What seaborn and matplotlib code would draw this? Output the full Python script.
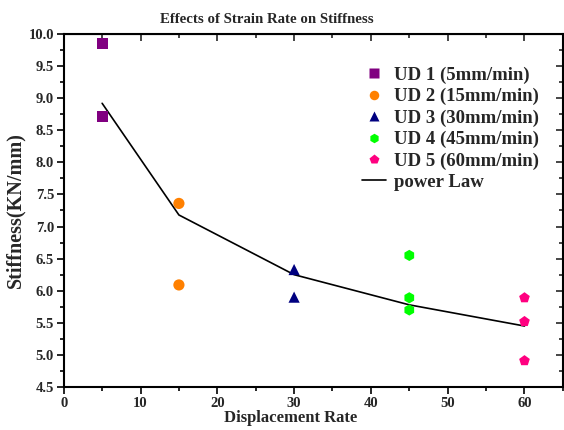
import matplotlib
matplotlib.use("Agg")
import matplotlib.pyplot as plt
import seaborn as sns
import pandas as pd
from matplotlib.ticker import MultipleLocator

groups = ["UD 1 (5mm/min)", "UD 2 (15mm/min)", "UD 3 (30mm/min)", "UD 4 (45mm/min)", "UD 5 (60mm/min)"]
ud1_x = [5, 5]; ud1_y = [9.85, 8.71]
ud2_x = [15, 15]; ud2_y = [7.36, 6.09]
ud3_x = [30, 30]; ud3_y = [6.33, 5.90]
ud4_x = [45, 45, 45]; ud4_y = [6.55, 5.89, 5.70]
ud5_x = [60, 60, 60]; ud5_y = [5.89, 5.52, 4.91]
power_x = [5, 15, 30, 45, 60]
power_y = [8.92, 7.18, 6.25, 5.78, 5.45]

colors = ["#800080", "#FF8000", "#000080", "#00FF00", "#FF0080"]
markers = ["s", "o", "^", "h", "p"]

sns.set_style("white")
plt.rcParams['font.family'] = ['Liberation Serif', 'DejaVu Serif']
plt.rcParams['font.weight'] = 'bold'

rows = []
for g, xs, ys in zip(groups, [ud1_x, ud2_x, ud3_x, ud4_x, ud5_x], [ud1_y, ud2_y, ud3_y, ud4_y, ud5_y]):
    for xv, yv in zip(xs, ys):
        rows.append({"rate": xv, "stiff": yv, "group": g})
df = pd.DataFrame(rows)
pl = pd.DataFrame({"rate": power_x, "stiff": power_y})

fig = plt.figure(figsize=(5.64, 4.30), dpi=100)
ax = fig.add_axes([0.113, 0.100, 0.885, 0.821])

sns.scatterplot(data=df, x="rate", y="stiff", hue="group", style="group",
                palette=dict(zip(groups, colors)), markers=dict(zip(groups, markers)),
                s=65, edgecolor="none", ax=ax, zorder=3)
sns.lineplot(data=pl, x="rate", y="stiff", color="black", lw=1.2, ax=ax, label="power Law", zorder=2)

ax.set_xlim(0, 65)
ax.set_ylim(4.5, 10.0)
ax.xaxis.set_major_locator(MultipleLocator(10))
ax.xaxis.set_minor_locator(MultipleLocator(5))
ax.yaxis.set_major_locator(MultipleLocator(0.5))
ax.yaxis.set_minor_locator(MultipleLocator(0.25))
ax.set_yticks(ax.get_yticks())
ax.set_yticklabels([f"{v:.1f}" for v in ax.get_yticks()])
ax.set_ylim(4.5, 10.0)
for lab in ax.get_xticklabels() + ax.get_yticklabels():
    lab.set_fontweight("bold")
    lab.set_fontsize(10.5)
ax.tick_params(which="both", bottom=True, left=True, top=False, right=False, direction="out", width=1.2, color="black", pad=2)
ax.tick_params(which="major", length=5)
ax.tick_params(which="minor", length=3)

ax2 = ax.secondary_xaxis("top")
ax2.xaxis.set_major_locator(MultipleLocator(10))
ax2.xaxis.set_minor_locator(MultipleLocator(5))
ax2.tick_params(which="both", direction="in", labeltop=False, width=1.2, length=5)
ax2.tick_params(which="minor", length=3)
ay2 = ax.secondary_yaxis("right")
ay2.yaxis.set_major_locator(MultipleLocator(0.5))
ay2.yaxis.set_minor_locator(MultipleLocator(0.25))
ay2.tick_params(which="both", direction="in", labelright=False, width=1.2, length=5)
ay2.tick_params(which="minor", length=3)

for sp in ax.spines.values():
    sp.set_color("black")
    sp.set_linewidth(1.5)

ax.set_xlabel("Displacement Rate", fontsize=12, fontweight="bold", labelpad=0)
ax.xaxis.set_label_coords(0.455, -0.066)
ax.set_ylabel("Stiffness(KN/mm)", fontsize=14.5, fontweight="bold", labelpad=2)
fig.text(0.473, 0.955, "Effects of Strain Rate on Stiffness", fontsize=10.75,
         fontweight="bold", ha="center", va="center")

leg = ax.legend(loc="upper right", bbox_to_anchor=(0.985, 0.955), frameon=False,
                prop={"weight": "bold", "size": 13.5}, handlelength=1.3, handletextpad=0.4,
                labelspacing=0.22, markerscale=0.85)

fig.savefig("out.png", dpi=100)
